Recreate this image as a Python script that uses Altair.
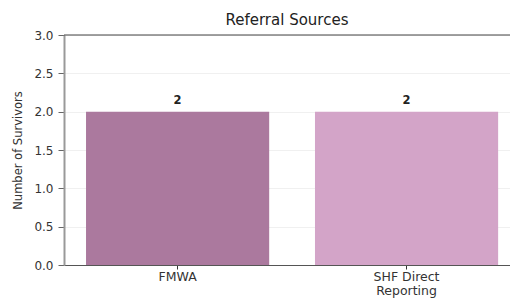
import altair as alt
import pandas as pd

categories = ["FMWA", "SHF Direct Reporting"]
values = [2, 2]
colors = ["#ab799e", "#d3a4c8"]
y_ticks = [0, 0.5, 1, 1.5, 2, 2.5, 3]
y_max = 3

df = pd.DataFrame({"source": categories, "count": values, "color": colors})

x = alt.X(
    "source:N",
    sort=categories,
    scale=alt.Scale(paddingInner=0.2, paddingOuter=0.074, align=0.65),
    axis=alt.Axis(
        title=None,
        labelAngle=0,
        labelFont="DejaVu Sans",
        labelFontSize=12.5,
        labelColor="#333",
        labelExpr="datum.value == 'SHF Direct Reporting' ? ['SHF Direct', 'Reporting'] : datum.label",
        labelLineHeight=14,
        tickColor="#333",
        tickSize=4,
        domainColor="#555",
        labelPadding=1,
    ),
)
y = alt.Y(
    "count:Q",
    scale=alt.Scale(domain=[0, y_max]),
    axis=alt.Axis(
        title="Number of Survivors",
        titleFont="DejaVu Sans",
        titleFontSize=11.5,
        titleFontWeight="normal",
        titleColor="#333",
        titlePadding=10,
        values=y_ticks,
        format=".1f",
        labelOverlap=False,
        labelFont="DejaVu Sans",
        labelFontSize=12,
        labelColor="#333",
        labelPadding=5,
        tickColor="#666",
        tickSize=6,
        domainColor="#999",
        domainWidth=2,
        grid=True,
        gridColor="#f0f0f0",
        gridWidth=1,
    ),
)

bars = alt.Chart(df).mark_bar().encode(
    x=x, y=y, color=alt.Color("color:N", scale=None)
)
labels = alt.Chart(df).mark_text(
    dy=-11, fontWeight="bold", font="DejaVu Sans", fontSize=11.5, color="#222"
).encode(x=x, y=y, text=alt.Text("count:Q"))
top_spine = alt.Chart(pd.DataFrame({"top": [y_max]})).mark_rule(
    color="#444", strokeWidth=1.2
).encode(y=alt.value(0))

chart = (
    alt.layer(bars, labels, top_spine)
    .properties(
        width=446,
        height=230,
        autosize=alt.AutoSizeParams(type="none"),
        padding={"left": 56, "top": 27, "right": 0, "bottom": 36},
        title=alt.TitleParams(
            "Referral Sources",
            font="DejaVu Sans",
            fontSize=15,
            fontWeight="normal",
            color="#222",
            offset=1,
        ),
    )
    .configure_view(strokeWidth=0)
)

chart.save("out.html", embed_options={"renderer": "svg", "actions": False})
